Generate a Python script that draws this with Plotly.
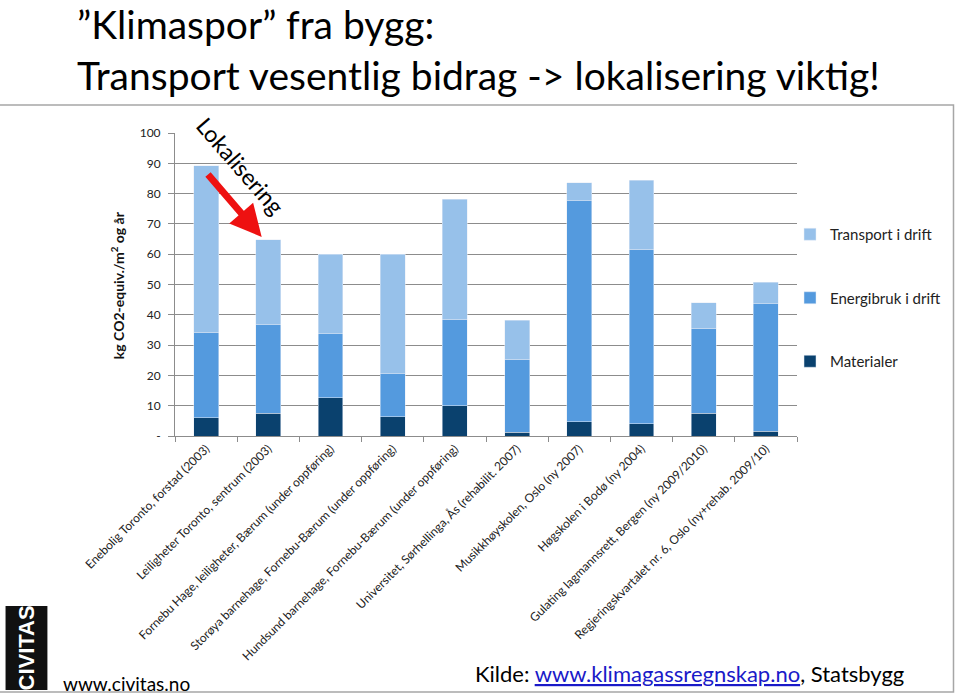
import plotly.graph_objects as go

categories = [
    "Enebolig Toronto, forstad (2003)",
    "Leiligheter Toronto, sentrum (2003)",
    "Fornebu Hage, leiligheter, Bærum (under oppføring)",
    "Storøya barnehage, Fornebu-Bærum (under oppføring)",
    "Hundsund barnehage, Fornebu-Bærum (under oppføring)",
    "Universitet, Sørhellinga, Ås (rehabilit. 2007)",
    "Musikkhøyskolen, Oslo (ny 2007)",
    "Høgskolen i Bodø (ny 2004)",
    "Gulating lagmannsrett, Bergen (ny 2009/2010)",
    "Regjeringskvartalet nr. 6, Oslo (ny+rehab. 2009/10)",
]
materialer = [6.0, 7.5, 12.6, 6.3, 10.0, 1.3, 4.7, 4.1, 7.5, 1.6]
energibruk = [28.3, 29.2, 21.2, 14.3, 28.6, 24.1, 72.9, 57.5, 28.1, 42.0]
transport = [54.9, 28.0, 26.2, 39.4, 39.6, 12.8, 6.0, 22.8, 8.4, 7.2]

y_tickvals = [0, 10, 20, 30, 40, 50, 60, 70, 80, 90, 100]
y_ticktext = ["-", "10", "20", "30", "40", "50", "60", "70", "80", "90", "100"]

FONT = "Lato, 'Open Sans', sans-serif"
W, H = 959, 694
L, R, T, B = 175, 160, 133, 258
PW, PH = W - L - R, H - T - B


def px(x):
    return (x - L) / PW


def py(y):
    return (H - B - y) / PH


fig = go.Figure()
fig.add_trace(go.Bar(x=categories, y=materialer, name="Materialer",
                     marker_color="#0a416e", legendgroup="m", legendrank=3))
fig.add_trace(go.Bar(x=categories, y=energibruk, name="Energibruk i drift",
                     marker_color="#549ade", legendgroup="e", legendrank=2))
fig.add_trace(go.Bar(x=categories, y=transport, name="Transport i drift",
                     marker_color="#97c1ea", legendgroup="t", legendrank=1))

fig.update_layout(
    width=W, height=H,
    margin=dict(l=L, r=R, t=T, b=B),
    barmode="stack", bargap=0.6,
    plot_bgcolor="white", paper_bgcolor="white",
    font=dict(family=FONT, color="#222"),
    showlegend=True,
    legend=dict(x=px(792), y=py(218), xanchor="left", yanchor="top",
                traceorder="grouped", tracegroupgap=41,
                font=dict(size=15, color="#222"), itemwidth=30,
                bgcolor="rgba(0,0,0,0)"),
    xaxis=dict(tickangle=-45, tickfont=dict(size=12, color="#222"),
               ticks="outside", tickson="boundaries", ticklen=5,
               tickcolor="#8c8c8c", showline=True, linecolor="#8c8c8c",
               linewidth=1, showgrid=False),
    yaxis=dict(range=[0, 100], tickvals=y_tickvals, ticktext=y_ticktext,
               tickfont=dict(size=12, color="#222"), ticks="outside",
               ticklen=6, tickcolor="#8c8c8c", showline=True,
               linecolor="#8c8c8c", linewidth=1, showgrid=True,
               gridcolor="#8c8c8c", gridwidth=1, zeroline=False,
               ticklabelstandoff=5),
)

shapes = [
    dict(type="rect", xref="paper", yref="paper", x0=px(-2), x1=px(956),
         y0=py(105), y1=py(692), line=dict(color="#a6a6a6", width=1.5),
         fillcolor="rgba(0,0,0,0)", layer="below"),
    dict(type="rect", xref="paper", yref="paper", x0=px(5), x1=px(47),
         y0=py(606), y1=py(690), line=dict(width=0), fillcolor="#111"),
]
fig.update_layout(shapes=shapes)

ann = [
    dict(text="”Klimaspor” fra bygg:<br>Transport vesentlig bidrag -> lokalisering viktig!",
         x=px(75), y=py(-1), xanchor="left", yanchor="top", align="left",
         font=dict(size=39, color="#000", family=FONT)),
    dict(text="<b>kg CO2-equiv./m<sup>2</sup> og år</b>", textangle=-90,
         x=px(117), y=py(285), xanchor="center", yanchor="middle",
         font=dict(size=14, color="#111", family=FONT)),
    dict(text="Lokalisering", textangle=49, x=px(241), y=py(166),
         xanchor="center", yanchor="middle",
         font=dict(size=23, color="#000", family=FONT)),
    dict(text="", x=px(262), y=py(237), ax=-55, ay=-64, showarrow=True,
         arrowhead=2, arrowsize=0.9, arrowwidth=7, arrowcolor="#ee1111",
         axref="pixel", ayref="pixel"),
    dict(text="<b>CIVITAS</b>", textangle=-90, x=px(26), y=py(648),
         xanchor="center", yanchor="middle",
         font=dict(size=22, color="white",
                   family="'Liberation Sans Narrow', 'Liberation Sans', sans-serif")),
    dict(text="www.civitas.no", x=px(61), y=py(683), xanchor="left",
         yanchor="middle", font=dict(size=19, color="#000", family=FONT)),
    dict(text="Kilde: <span style='color:#1a1ac8'><u>www.klimagassregnskap.no</u></span>, Statsbygg",
         x=px(474), y=py(673), xanchor="left", yanchor="middle",
         font=dict(size=22, color="#000", family=FONT)),
]
for a in ann:
    a.setdefault("showarrow", False)
    a["xref"] = "paper"
    a["yref"] = "paper"
fig.update_layout(annotations=ann)

fig.write_html("out.html")
